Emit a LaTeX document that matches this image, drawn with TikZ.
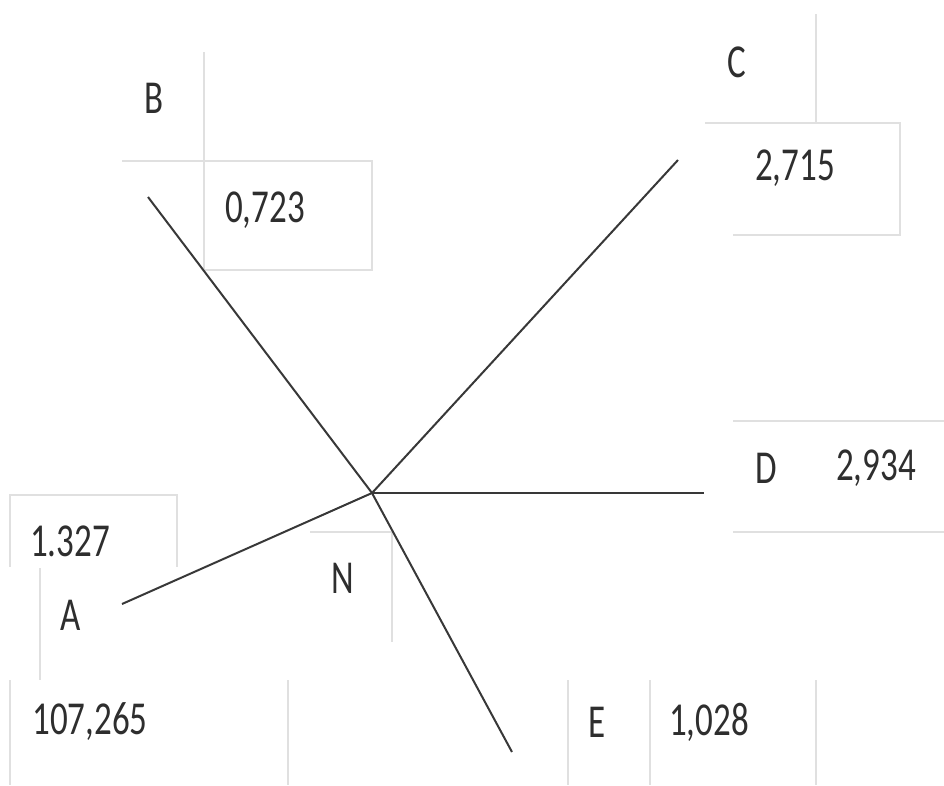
\documentclass[tikz,border=0pt]{standalone}
\usepackage{fontspec}
\setmainfont{Carlito}
\begin{document}
\begin{tikzpicture}[x=1pt,y=-1pt,
  grid/.style={draw=black!12,line width=1.5pt},
  edge/.style={draw=black!78,line width=2pt},
  lbl/.style={text=black!82,inner sep=0pt,font=\fontsize{35}{42}\selectfont},
  ]
\useasboundingbox (0,0) rectangle (944,785);
% faint table lines
\draw[grid] (204,52) -- (204,270) -- (372,270) -- (372,161) -- (122,161);
\draw[grid] (816,14) -- (816,123);
\draw[grid] (705,123) -- (900,123) -- (900,235) -- (733,235);
\draw[grid] (733,421) -- (944,421);
\draw[grid] (733,532) -- (944,532);
\draw[grid] (10,567) -- (10,495) -- (177,495) -- (177,567);
\draw[grid] (40,568) -- (40,680);
\draw[grid] (10,680) -- (10,785);
\draw[grid] (288,680) -- (288,785);
\draw[grid] (310,532) -- (392,532) -- (392,642);
\draw[grid] (568,680) -- (568,785);
\draw[grid] (650,680) -- (650,785);
\draw[grid] (816,680) -- (816,785);
% labels
\node[lbl] (tB) at (154,98) {\scalebox{1}[1.35]{B}};
\node[lbl] (vB) at (265,210) {\scalebox{1}[1.35]{0,723}};
\node[lbl] (tC) at (737,62) {\scalebox{1}[1.35]{C}};
\node[lbl] (vC) at (795,168) {\scalebox{1}[1.35]{2,715}};
\node[lbl] (tD) at (766,468) {\scalebox{1}[1.35]{D}};
\node[lbl] (vD) at (876,468) {\scalebox{1}[1.35]{2,934}};
\node[lbl] (vA) at (70,541) {\scalebox{1}[1.35]{1.327}};
\node[lbl] (tA) at (71,615) {\scalebox{1}[1.35]{A}};
\node[lbl] (tN) at (343,578) {\scalebox{1}[1.35]{N}};
\node[lbl] (vX) at (90,722) {\scalebox{1}[1.35]{107,265}};
\node[lbl] (tE) at (597,722) {\scalebox{1}[1.35]{E}};
\node[lbl] (vE) at (709,722) {\scalebox{1}[1.35]{1,028}};
% lines
\coordinate (N) at (372,493);
\coordinate (pA) at (122,604);
\coordinate (pB) at (148,197);
\coordinate (pC) at (678,160);
\coordinate (pD) at (704,493);
\coordinate (pE) at (512,752);
\draw[edge] (N) -- (pA);
\draw[edge] (N) -- (pB);
\draw[edge] (N) -- (pC);
\draw[edge,line width=2.6pt] (N) -- (pD);
\draw[edge] (N) -- (pE);
\end{tikzpicture}
\end{document}
